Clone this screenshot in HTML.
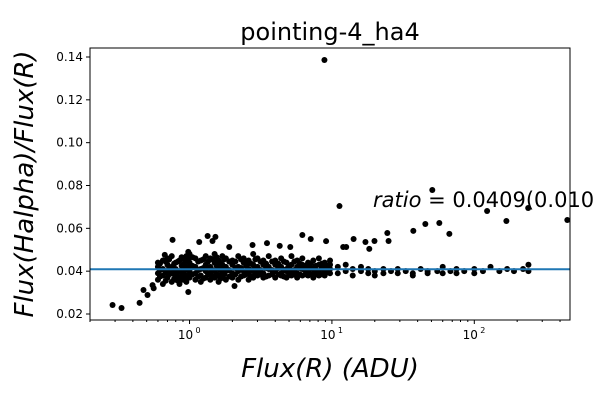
<!DOCTYPE html>
<html><head><meta charset="utf-8"><style>body{margin:0;background:#fff}svg{display:block}text{font-family:"DejaVu Sans","Liberation Sans",sans-serif}</style></head>
<body>
<svg id="chart" width="600" height="400" viewBox="0 0 600 400">
<rect width="600" height="400" fill="#fff"/>
<text x="330" y="40" font-size="24" text-anchor="middle">pointing-4_ha4</text>
<g id="pts"></g>
<g id="axes"></g>
<text x="373" y="207" font-size="21"><tspan font-style="italic">ratio</tspan> = 0.0409(0.010</text>
<text x="330" y="377" font-size="26" text-anchor="middle" font-style="italic">Flux(R) (ADU)</text>
<text transform="translate(33,184) rotate(-90)" font-size="26" text-anchor="middle" font-style="italic">Flux(Halpha)/Flux(R)</text>
</svg>
<script>
const colFlux=[0.6,0.65,0.7,0.75,0.8,0.85,0.9,0.95,1.0,1.1,1.2,1.3,1.4,1.5,1.6,1.7,1.8,2.0,2.2,2.4,2.6,2.8,3.0,3.3,3.6,4.0,4.4,4.8,5.2,5.7,6.2,6.8,7.4,8.1,8.9,9.7];
const colRatios=[[0.036,0.039,0.042,0.044],[0.034,0.038,0.041,0.045],[0.037,0.040,0.043,0.046],[0.035,0.039,0.042,0.047],[0.036,0.038,0.041,0.044],[0.034,0.037,0.040,0.045],[0.036,0.039,0.043,0.046],[0.035,0.038,0.042,0.047],[0.037,0.040,0.044,0.048],[0.036,0.039,0.042,0.046],[0.035,0.038,0.041,0.045],[0.037,0.040,0.043,0.047],[0.036,0.039,0.042,0.046],[0.037,0.040,0.044,0.048],[0.035,0.038,0.041,0.045],[0.037,0.039,0.043,0.047],[0.036,0.040,0.042,0.046],[0.037,0.039,0.043,0.045],[0.036,0.040,0.042,0.047],[0.038,0.040,0.044,0.046],[0.036,0.039,0.041,0.045],[0.037,0.040,0.043,0.048],[0.038,0.040,0.042,0.046],[0.037,0.039,0.043,0.045],[0.038,0.041,0.042,0.047],[0.037,0.040,0.043,0.045],[0.038,0.039,0.042,0.046],[0.037,0.040,0.041,0.044],[0.038,0.040,0.043,0.047],[0.037,0.039,0.042,0.045],[0.038,0.041,0.043,0.046],[0.038,0.040,0.042,0.044],[0.037,0.039,0.041,0.045],[0.038,0.040,0.043,0.046],[0.038,0.040,0.042,0.044],[0.039,0.041,0.043,0.045]];
const colFlux2=[0.62,0.68,0.72,0.78,0.83,0.88,0.93,0.98,1.05,1.15,1.25,1.35,1.45,1.55,1.65,1.75,1.9,2.1,2.3,2.5,2.7,2.9,3.15,3.45,3.8,4.2,4.6,5.0,5.45,5.95,6.5,7.1,7.7,8.5,9.3];
const colRatios2=[[0.0375,0.0405,0.0435],[0.0355,0.0395,0.0445],[0.0385,0.0415,0.0455],[0.0365,0.0405,0.0435],[0.0355,0.0395,0.0445],[0.0375,0.0425,0.0465],[0.0365,0.0405,0.0445],[0.0375,0.0415,0.0455],[0.0385,0.0425,0.0465],[0.0375,0.0405,0.0445],[0.0365,0.0415,0.0455],[0.0385,0.0415,0.0445],[0.0375,0.0405,0.0455],[0.0385,0.0425,0.0465],[0.0365,0.0405,0.0435],[0.0385,0.0415,0.0455],[0.0375,0.0405,0.0445],[0.0385,0.0415,0.0445],[0.0375,0.0415,0.0455],[0.0385,0.0425,0.0445],[0.0375,0.0405,0.0435],[0.0385,0.0415,0.0455],[0.0385,0.0405,0.0445],[0.0375,0.0415,0.0435],[0.0385,0.0405,0.0445],[0.0385,0.0415,0.0435],[0.0375,0.0405,0.0445],[0.0385,0.0415,0.0425],[0.0385,0.0405,0.0445],[0.0385,0.0415,0.0435],[0.0385,0.0405,0.0425],[0.0385,0.0415,0.0435],[0.0385,0.0405,0.0425],[0.0385,0.0415,0.0435],[0.0395,0.0405,0.0425]];
const extraFlux=[11,11,12.5,12.5,14,14,16,16,18,18,20,20,23,23,26,29,29,33,37,37,42,47,47,55,60,60,68,75,75,85,100,100,115,130,150,170,190,220,240,240,
0.288,0.333,0.446,0.475,0.507,0.56,0.55,0.76,1.34,1.52,1.17,1.45,6.2,7.1,9.1,2.77,3.5,4.3,5.1,1.9,0.67,0.98,2.07,0.98,
8.86,11.3,50.7,123,239,168,450,45.3,56.8,37.3,66.8,24.5,25.0,19.9,17.2,18.3,14.2,12.0,12.6];
const extraRatio=[0.039,0.042,0.040,0.043,0.038,0.041,0.040,0.042,0.039,0.041,0.040,0.038,0.041,0.039,0.040,0.039,0.041,0.040,0.039,0.038,0.041,0.040,0.039,0.040,0.042,0.039,0.040,0.041,0.039,0.040,0.039,0.041,0.040,0.042,0.040,0.041,0.040,0.041,0.043,0.040,
0.0242,0.0228,0.0252,0.0312,0.0289,0.032,0.0335,0.0546,0.0564,0.056,0.0536,0.0541,0.0569,0.055,0.054,0.0522,0.0531,0.0518,0.0513,0.0513,0.0476,0.049,0.0331,0.0303,
0.1386,0.0704,0.0779,0.0681,0.0695,0.0634,0.0639,0.0620,0.0625,0.0588,0.0574,0.0578,0.0541,0.0541,0.0536,0.0504,0.0550,0.0513,0.0513];
const yTicks=[0.02,0.04,0.06,0.08,0.10,0.12,0.14];
const yTickLabels=["0.02","0.04","0.06","0.08","0.10","0.12","0.14"];
const xTicks=[1,10,100];
const xTickExps=["0","1","2"];
const ratioLine=0.0409;

const L=90,R=570,T=48,B=320;
const lx0=Math.log10(0.2),lx1=Math.log10(470),y0=0.0172,y1=0.1442;
const X=v=>L+(Math.log10(v)-lx0)/(lx1-lx0)*(R-L);
const Y=v=>B-(v-y0)/(y1-y0)*(B-T);
const NS="http://www.w3.org/2000/svg";
function mk(t,a,p){const e=document.createElementNS(NS,t);for(const k in a)e.setAttribute(k,a[k]);p.appendChild(e);return e;}
const pts=document.getElementById('pts'),ax=document.getElementById('axes');
function dot(x,y){const c=mk('circle',{cx:X(x),cy:Y(y),r:3,fill:'#000'},pts);

}
colFlux.forEach((f,i)=>colRatios[i].forEach(r=>dot(f,r)));
colFlux2.forEach((f,i)=>colRatios2[i].forEach(r=>dot(f,r)));
extraFlux.forEach((f,i)=>dot(f,extraRatio[i]));
const ln=mk('line',{x1:L,x2:R,y1:Y(ratioLine),y2:Y(ratioLine),stroke:'#1f77b4','stroke-width':2},ax);


const fr=mk('rect',{x:L,y:T,width:R-L,height:B-T,fill:'none',stroke:'#000','stroke-width':1},ax);


yTicks.forEach((v,i)=>{const y=Y(v);mk('line',{x1:L-4,x2:L,y1:y,y2:y,stroke:'#000'},ax);
const t=mk('text',{x:L-7,y:y+4,'font-size':12,'text-anchor':'end'},ax);t.textContent=yTickLabels[i];

});
xTicks.forEach((v,i)=>{const x=X(v);mk('line',{x1:x,x2:x,y1:B,y2:B+4,stroke:'#000'},ax);
const t=mk('text',{x:x-4,y:B+19,'font-size':12,'text-anchor':'middle'},ax);t.textContent='10';


const s=mk('text',{x:x+6,y:B+13,'font-size':8},ax);s.textContent=xTickExps[i];

});
for(let d=-1;d<=2;d++)for(let m=2;m<=9;m++){const v=m*Math.pow(10,d);if(v<0.2||v>470)continue;const x=X(v);mk('line',{x1:x,x2:x,y1:B,y2:B+2,stroke:'#000'},ax);}
</script>
</body></html>
